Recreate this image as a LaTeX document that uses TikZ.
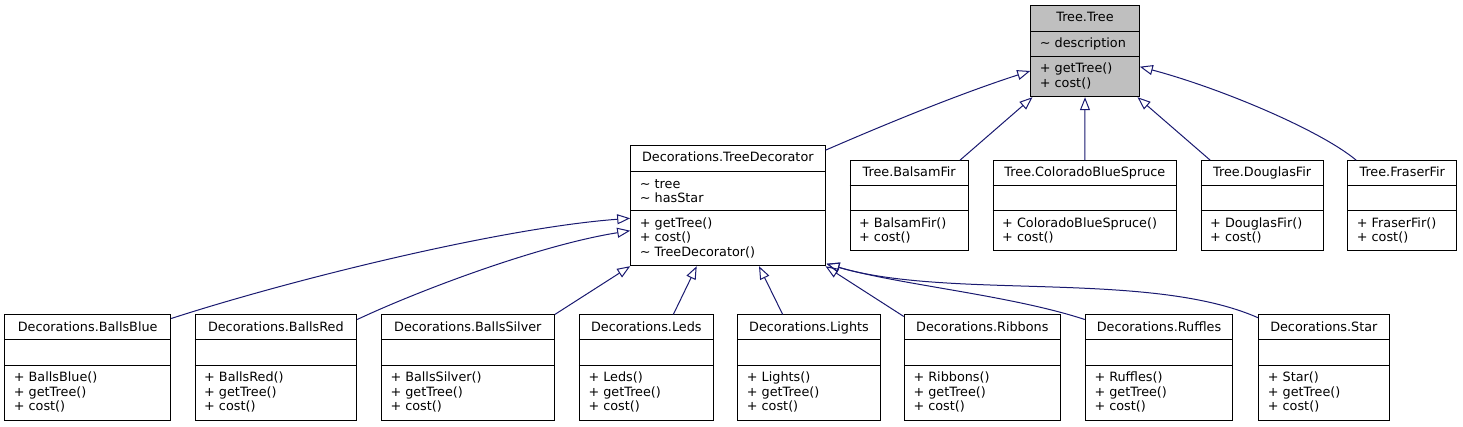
\documentclass[tikz,border=0pt]{standalone}
\usepackage{fontspec}
\setmainfont{DejaVu Sans}
\usetikzlibrary{arrows.meta,calc}
\definecolor{edgeblue}{HTML}{191970}
\definecolor{focusgray}{HTML}{BFBFBF}
\tikzset{classbox/.style={draw=black, line width=1pt, fill=white, inner sep=0pt},
         classtext/.style={inner sep=0pt, font=\fontsize{12.8}{14.5}\selectfont},
         membertext/.style={classtext, anchor=west, align=left},
         parts/.style={draw=black, line width=1pt},
         extends/.style={draw=edgeblue, line width=1pt, -{Triangle[open, length=13pt, width=10pt]}}}

\begin{document}
\begin{tikzpicture}[x=1pt, y=-1pt]
                    \useasboundingbox[fill=white] (0,0) rectangle (1463,427);
                    % base class
                    \node[classbox, fill=focusgray, minimum width=108.6pt, minimum height=91pt] (Tree) at (1085,51.2) {};
                    \draw[parts] ($(Tree.north west)+(0,26)$) -- ++(108.6,0);
                    \draw[parts] ($(Tree.north west)+(0,51)$) -- ++(108.6,0);
                    \node[classtext, anchor=base] at ($(Tree.north)+(0,16.5)$) {Tree.Tree};
                    \node[membertext] at ($(Tree.north west)+(9.5,38.5)$) {\textasciitilde{} description};
                    \node[membertext] at ($(Tree.north west)+(9.5,71)$) {+ getTree()\\+ cost()};

                    % trees
                    \foreach \cls/\xl/\xr in {BalsamFir/850/968.3, ColoradoBlueSpruce/993/1176.7, DouglasFir/1201/1323.3, FraserFir/1347.7/1456.7}{
                        \pgfmathsetmacro\midx{(\xl+\xr)/2}
                        \pgfmathsetmacro\boxw{\xr-\xl}
                        \node[classbox, minimum width=\boxw pt, minimum height=90.3pt] (\cls) at (\midx,205.85) {};
                        \draw[parts] ($(\cls.north west)+(0,25.3)$) -- ++(\boxw,0);
                        \draw[parts] ($(\cls.north west)+(0,50.3)$) -- ++(\boxw,0);
                        \node[classtext, anchor=base] at ($(\cls.north)+(0,16.5)$) {Tree.\cls};
                        \node[membertext] at ($(\cls.north west)+(9.5,70.3)$) {+ \cls()\\+ cost()};
                        }

                    % decorator
                    \node[classbox, minimum width=194.3pt, minimum height=120pt] (TreeDecorator) at (727.85,205.7) {};
                    \draw[parts] ($(TreeDecorator.north west)+(0,26)$) -- ++(194.3,0);
                    \draw[parts] ($(TreeDecorator.north west)+(0,65.3)$) -- ++(194.3,0);
                    \node[classtext, anchor=base] at ($(TreeDecorator.north)+(0,16.5)$) {Decorations.TreeDecorator};
                    \node[membertext] at ($(TreeDecorator.north west)+(9.5,45.65)$) {\textasciitilde{} tree\\\textasciitilde{} hasStar};
                    \node[membertext] at ($(TreeDecorator.north west)+(9.5,92.65)$) {+ getTree()\\+ cost()\\\textasciitilde{} TreeDecorator()};

                    % decorations
                    \foreach \cls/\xl/\xr in {BallsBlue/4.7/170.7, BallsRed/195/356.7, BallsSilver/381.3/554.3, Leds/579.3/713.3, Lights/737.7/880.3, Ribbons/904.3/1060.3, Ruffles/1085.3/1232.7, Star/1258.7/1389}{
                        \pgfmathsetmacro\midx{(\xl+\xr)/2}
                        \pgfmathsetmacro\boxw{\xr-\xl}
                        \node[classbox, minimum width=\boxw pt, minimum height=105pt] (\cls) at (\midx,367.5) {};
                        \draw[parts] ($(\cls.north west)+(0,25.3)$) -- ++(\boxw,0);
                        \draw[parts] ($(\cls.north west)+(0,50.7)$) -- ++(\boxw,0);
                        \node[classtext, anchor=base] at ($(\cls.north)+(0,16.5)$) {Decorations.\cls};
                        \node[membertext] at ($(\cls.north west)+(9.5,77.85)$) {+ \cls()\\+ getTree()\\+ cost()};
                        }

                    \draw[extends] ($(TreeDecorator.north east)+(0,5)$) .. controls (895,120) and (965,92) .. ($(Tree.west)+(0,19.8)$);
                    \draw[extends] ($(BalsamFir.north)+(50.85,0)$) -- ($(Tree.south west)+(2.3,0)$);
                    \draw[extends] (ColoradoBlueSpruce.north) -- (Tree.south);
                    \draw[extends] ($(DouglasFir.north west)+(9.7,0)$) -- ($(Tree.south east)+(-2.3,0)$);
                    \draw[extends] ($(FraserFir.north west)+(9,0)$) .. controls (1320,130) and (1220,88) .. ($(Tree.east)+(0,15.5)$);

                    \draw[extends] ($(BallsBlue.north east)+(0,4)$) .. controls (290,280) and (500,228) .. ($(TreeDecorator.west)+(0,12.6)$);
                    \draw[extends] ($(BallsRed.north east)+(0,5)$) .. controls (420,290) and (540,245) .. ($(TreeDecorator.west)+(0,25)$);
                    \draw[extends] (BallsSilver.north east) -- (TreeDecorator.south west);
                    \draw[extends] ($(Leds.north)+(27,0)$) -- ($(TreeDecorator.south)+(-31.15,0)$);
                    \draw[extends] ($(Lights.north)+(-26.3,0)$) -- ($(TreeDecorator.south)+(31.15,0)$);
                    \draw[extends] ($(Ribbons.north west)+(0,2)$) -- (TreeDecorator.south east);
                    \draw[extends] ($(Ruffles.north west)+(0,5)$) .. controls (1010,295) and (900,285) .. ($(TreeDecorator.south east)+(1,-2.4)$);
                    \draw[extends] ($(Star.north west)+(0,3.3)$) .. controls (1150,270) and (950,300) .. ($(TreeDecorator.south east)+(1,-2.4)$);
                \end{tikzpicture}
\end{document}
